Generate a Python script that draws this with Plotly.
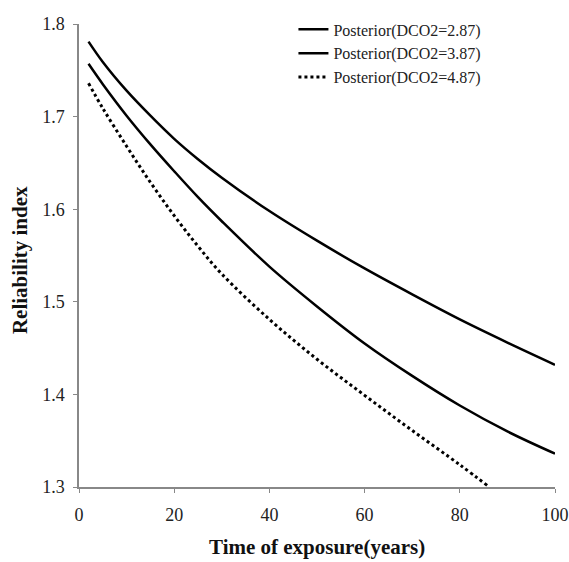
import plotly.graph_objects as go

# Time of exposure (years) and reliability index for each posterior
x1 = [2, 5, 10, 15, 20, 25, 30, 40, 50, 60, 70, 80, 90, 100]
y1 = [1.781, 1.759, 1.728, 1.701, 1.676, 1.654, 1.634, 1.598, 1.566, 1.536, 1.508, 1.481, 1.456, 1.432]

x2 = [2, 5, 10, 15, 20, 25, 30, 40, 50, 60, 70, 80, 90, 100]
y2 = [1.757, 1.735, 1.701, 1.670, 1.641, 1.613, 1.587, 1.538, 1.495, 1.455, 1.420, 1.388, 1.360, 1.336]

x3 = [2, 5, 10, 15, 20, 25, 30, 40, 50, 60, 70, 80, 86.2]
y3 = [1.736, 1.709, 1.668, 1.629, 1.593, 1.560, 1.530, 1.481, 1.438, 1.399, 1.361, 1.324, 1.300]

names = ["Posterior(DCO2=2.87)", "Posterior(DCO2=3.87)", "Posterior(DCO2=4.87)"]

x_ticks = [0, 20, 40, 60, 80, 100]
y_ticks = [1.3, 1.4, 1.5, 1.6, 1.7, 1.8]

x_title = "Time of exposure(years)"
y_title = "Reliability index"

font = "Liberation Serif, Times New Roman, serif"

fig = go.Figure()
fig.add_trace(go.Scatter(x=x1, y=y1, mode="lines", name=names[0],
                         line=dict(color="black", width=2.5, shape="spline", smoothing=1)))
fig.add_trace(go.Scatter(x=x2, y=y2, mode="lines", name=names[1],
                         line=dict(color="black", width=2.5, shape="spline", smoothing=1)))
fig.add_trace(go.Scatter(x=x3, y=y3, mode="lines", name=names[2],
                         line=dict(color="black", width=3, dash="dot", shape="spline", smoothing=1)))

fig.update_layout(
    width=569, height=562,
    margin=dict(l=79, r=14, t=15, b=75),
    paper_bgcolor="white", plot_bgcolor="white",
    font=dict(family=font, color="#222", size=18),
    showlegend=True,
    legend=dict(x=0.4505, y=1.025, xanchor="left", yanchor="top",
                font=dict(family=font, size=16, color="#222"),
                bgcolor="rgba(0,0,0,0)", tracegroupgap=0, itemwidth=30),
    xaxis=dict(range=[0, 100], tickvals=x_ticks, showgrid=False, zeroline=False,
               showline=True, linecolor="#888", linewidth=1.5, automargin=False,
               ticks="outside", ticklen=4, tickcolor="#888", ticklabelstandoff=7,
               ticklabeloverflow="allow",
               tickfont=dict(size=18, family=font)),
    yaxis=dict(range=[1.3, 1.8], tickvals=y_ticks, tickformat=".1f", showgrid=False, zeroline=False,
               showline=True, linecolor="#888", linewidth=1.5, automargin=False,
               ticks="outside", ticklen=4, tickcolor="#888", ticklabelstandoff=5,
               tickfont=dict(size=18, family=font)),
    annotations=[
        dict(text="<b>" + x_title + "</b>", xref="paper", yref="paper",
             x=0.5, y=-0.129, xanchor="center", yanchor="middle", showarrow=False,
             font=dict(size=21, family=font, color="#111")),
        dict(text="<b>" + y_title + "</b>", xref="paper", yref="paper",
             x=-0.124, y=0.49, xanchor="center", yanchor="middle", showarrow=False,
             textangle=-90, font=dict(size=21, family=font, color="#111")),
    ],
)

# remove the default page margin so the figure fills the window exactly
fig.write_html("out.html", config={"displayModeBar": False},
               post_script="document.body.style.margin='0';")
